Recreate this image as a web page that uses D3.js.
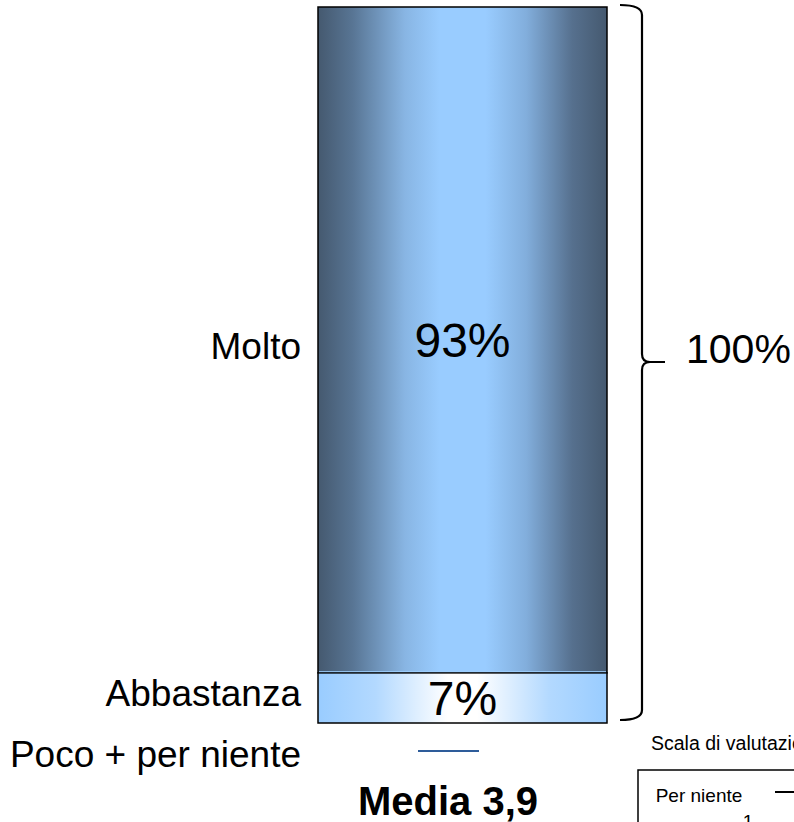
<!DOCTYPE html>
<html>
<head>
<meta charset="utf-8">
<script src="https://cdn.jsdelivr.net/npm/d3@7"></script>
<style>
  body { margin: 0; background: #fff; }
  svg { display: block; font-family: Arial, "Liberation Sans", sans-serif; }
</style>
</head>
<body>
<div class="chart"></div>
<script>
// stacked 100% column, one respondent group
const categories = ["Molto", "Abbastanza", "Poco + per niente"];
const values = [93, 7, 0];
const totalLabel = "100%";
const meanLabel = "Media 3,9";
const scaleTitle = "Scala di valutazione";
const scaleSteps = ["Per niente", "Poco", "Abbastanza", "Molto"];
const scaleNumbers = ["1", "2", "3", "4"];

const w = 794;
const h = 822;
const barLeft = 318;
const barRight = 607;

const svg = d3
  .select(".chart")
  .append("svg")
  .attr("width", w)
  .attr("height", h);

const yScale = d3.scaleLinear().domain([0, 100]).range([723, 7]);

// gradients
const defs = svg.append("defs");
const gDark = defs.append("linearGradient").attr("id", "gMolto");
[
  [0, "#45596f"],
  [0.12, "#587594"],
  [0.3, "#88b5e3"],
  [0.42, "#99ccff"],
  [0.58, "#99ccff"],
  [0.72, "#82aedc"],
  [0.88, "#56708e"],
  [1, "#45596f"],
].forEach((s) => gDark.append("stop").attr("offset", s[0]).attr("stop-color", s[1]));

const gLight = defs.append("linearGradient").attr("id", "gAbb");
[
  [0, "#99ccff"],
  [0.2, "#b3d9ff"],
  [0.45, "#ffffff"],
  [0.55, "#ffffff"],
  [0.8, "#b3d9ff"],
  [1, "#99ccff"],
].forEach((s) => gLight.append("stop").attr("offset", s[0]).attr("stop-color", s[1]));

// stacking from the bottom, Molto on top
const stacked = [];
let acc = 0;
for (let i = values.length - 1; i >= 0; i--) {
  stacked.unshift({ cat: categories[i], v: values[i], y0: acc, y1: acc + values[i] });
  acc += values[i];
}

const fills = ["url(#gMolto)", "url(#gAbb)", "#2e5c9a"];

svg
  .selectAll("rect.seg")
  .data(stacked.filter((d) => d.v > 0))
  .enter()
  .append("rect")
  .attr("class", "seg")
  .attr("x", barLeft)
  .attr("width", barRight - barLeft)
  .attr("y", (d) => yScale(d.y1))
  .attr("height", (d) => yScale(d.y0) - yScale(d.y1))
  .attr("fill", (d) => fills[categories.indexOf(d.cat)])
  .attr("stroke", "#000")
  .attr("stroke-width", 1.5);

// light separator between the two segments
svg
  .append("line")
  .attr("x1", barLeft + 1)
  .attr("x2", barRight - 1)
  .attr("y1", yScale(stacked[1].y1) - 1.2)
  .attr("y2", yScale(stacked[1].y1) - 1.2)
  .attr("stroke", "#9fd0ff")
  .attr("stroke-width", 1);

// zero segment shown as a small line under the bar
svg
  .append("line")
  .attr("x1", 418)
  .attr("x2", 479)
  .attr("y1", yScale(0) + 28)
  .attr("y2", yScale(0) + 28)
  .attr("stroke", "#2e5c9a")
  .attr("stroke-width", 2);

// category labels
const labelY = [
  (yScale(stacked[0].y0) + yScale(stacked[0].y1)) / 2,
  (yScale(stacked[1].y0) + yScale(stacked[1].y1)) / 2,
  yScale(0) + 32,
];
const labelShift = [19, 8, 12];
svg
  .selectAll("text.cat")
  .data(categories)
  .enter()
  .append("text")
  .attr("class", "cat")
  .attr("x", 301)
  .attr("y", (d, i) => labelY[i] + labelShift[i])
  .attr("text-anchor", "end")
  .attr("font-size", 37)
  .attr("fill", "#000")
  .text((d) => d);

// percentage labels
svg
  .selectAll("text.pct")
  .data(stacked.filter((d) => d.v > 0))
  .enter()
  .append("text")
  .attr("class", "pct")
  .attr("x", (barLeft + barRight) / 2)
  .attr("y", (d, i) => labelY[i] + 17)
  .attr("text-anchor", "middle")
  .attr("font-size", 48)
  .attr("fill", "#000")
  .text((d) => d.v + "%");

// brace
const bTop = 5;
const bBot = 720;
const bMid = 362;
const bx = 642;
const brace = d3.path();
brace.moveTo(620, bTop);
brace.quadraticCurveTo(bx, bTop, bx, bTop + 10);
brace.lineTo(bx, bMid - 8);
brace.quadraticCurveTo(bx, bMid, bx + 8, bMid);
brace.lineTo(665, bMid);
brace.moveTo(bx + 8, bMid);
brace.quadraticCurveTo(bx, bMid, bx, bMid + 8);
brace.lineTo(bx, bBot - 10);
brace.quadraticCurveTo(bx, bBot, 620, bBot);
svg
  .append("path")
  .attr("d", brace.toString())
  .attr("fill", "none")
  .attr("stroke", "#000")
  .attr("stroke-width", 2.2);

svg
  .append("text")
  .attr("x", 686)
  .attr("y", bMid + 1)
  .attr("font-size", 41)
  .text(totalLabel);

// mean
svg
  .append("text")
  .attr("x", 448)
  .attr("y", 815)
  .attr("text-anchor", "middle")
  .attr("font-size", 40)
  .attr("font-weight", "bold")
  .text(meanLabel);

// rating scale legend (partly outside the frame)
svg
  .append("text")
  .attr("x", 651)
  .attr("y", 750)
  .attr("font-size", 19.5)
  .text(scaleTitle);

svg
  .append("rect")
  .attr("x", 638)
  .attr("y", 770)
  .attr("width", 400)
  .attr("height", 80)
  .attr("fill", "none")
  .attr("stroke", "#000")
  .attr("stroke-width", 1.5);

const stepX = d3.scalePoint().domain(scaleSteps).range([699, 1100]);
svg
  .selectAll("text.step")
  .data(scaleSteps)
  .enter()
  .append("text")
  .attr("class", "step")
  .attr("x", (d) => stepX(d))
  .attr("y", 802)
  .attr("text-anchor", "middle")
  .attr("font-size", 19)
  .text((d) => d);

svg
  .selectAll("text.num")
  .data(scaleNumbers)
  .enter()
  .append("text")
  .attr("class", "num")
  .attr("x", (d, i) => stepX(scaleSteps[i]) + 49)
  .attr("y", 828)
  .attr("text-anchor", "middle")
  .attr("font-size", 19)
  .text((d) => d);

svg
  .append("line")
  .attr("x1", 775)
  .attr("x2", 800)
  .attr("y1", 792)
  .attr("y2", 792)
  .attr("stroke", "#000")
  .attr("stroke-width", 2);
</script>
</body>
</html>
